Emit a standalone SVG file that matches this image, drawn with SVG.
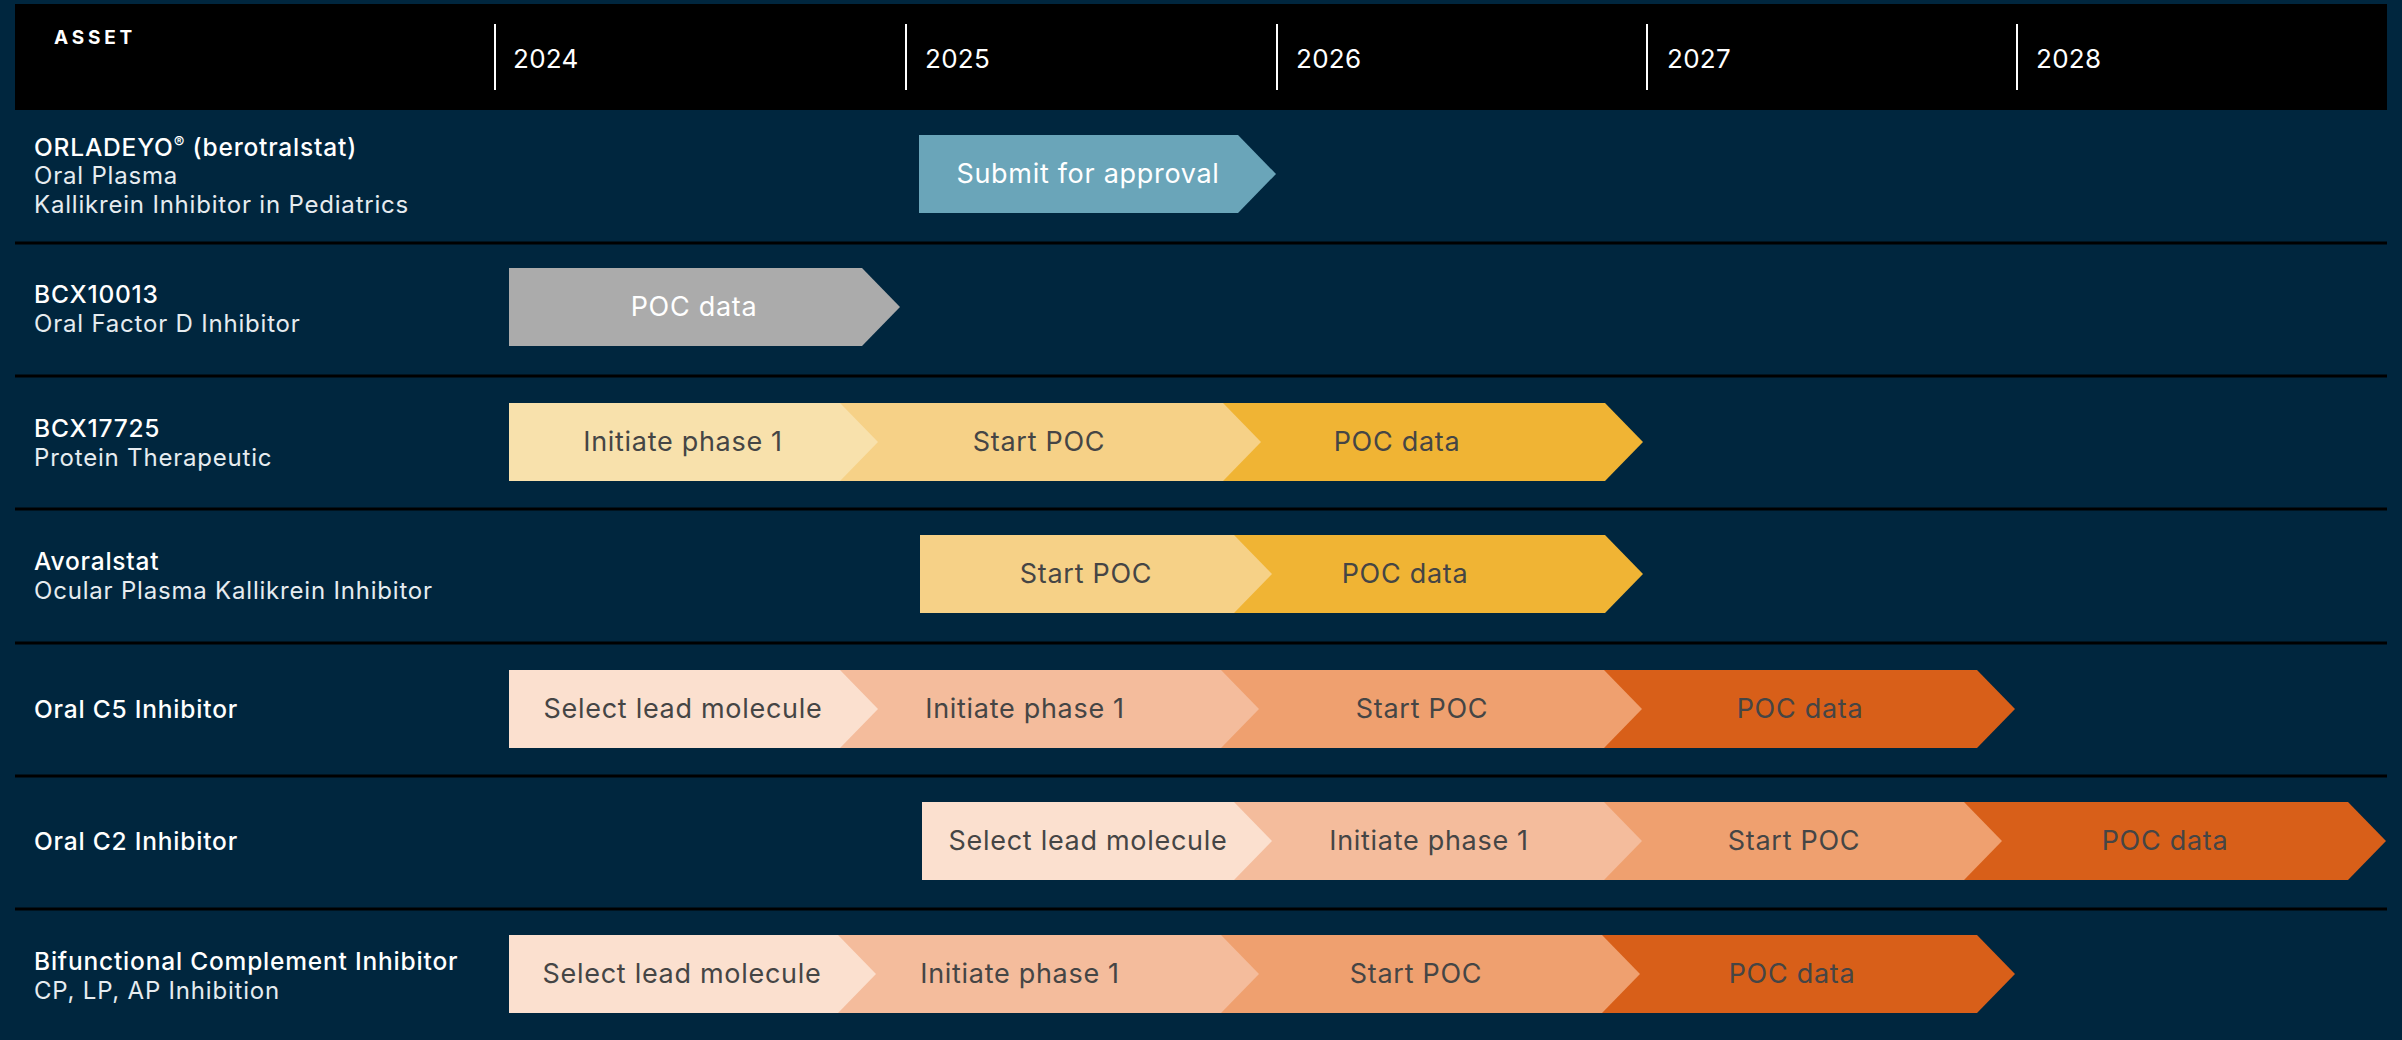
<svg xmlns="http://www.w3.org/2000/svg" width="2402" height="1040" viewBox="0 0 2402 1040">
<style>
.bg{fill:#00263e}
.hdr{fill:#000}
.yline{stroke:#fff;stroke-width:2}
.year{font-family:Inter,"Liberation Sans",sans-serif;font-size:26px;fill:#fff;letter-spacing:0.3px}
.asset{font-family:Inter,"Liberation Sans",sans-serif;font-size:19px;font-weight:700;fill:#fff;letter-spacing:3.8px}
.sep{stroke:#000;stroke-width:3}
.t1{font-family:Inter,"Liberation Sans",sans-serif;font-size:24.5px;font-weight:500;fill:#fff;letter-spacing:0.8px}
.t2{font-family:Inter,"Liberation Sans",sans-serif;font-size:24px;fill:#e6ecf0;letter-spacing:0.8px}
.lbl{font-family:Inter,"Liberation Sans",sans-serif;font-size:27px;fill:#454545;text-anchor:middle;letter-spacing:0.7px}
.lw{fill:#fff}
.blue{fill:#6aa5b9}
.gray{fill:#ababab}
.y1{fill:#f8e1ac}
.y2{fill:#f6d187}
.y3{fill:#f0b434}
.o1{fill:#fbe0cf}
.o2{fill:#f4bc9c}
.o3{fill:#efa06f}
.o4{fill:#d85f19}
</style>
<rect class="bg" x="0" y="0" width="2402" height="1040"/>
<g id="header">
<rect class="hdr" x="15" y="4" width="2372" height="106"/>
<text class="asset" x="54" y="44">ASSET</text>
<line class="yline" x1="495" y1="24" x2="495" y2="90"/>
<line class="yline" x1="906" y1="24" x2="906" y2="90"/>
<line class="yline" x1="1277" y1="24" x2="1277" y2="90"/>
<line class="yline" x1="1647" y1="24" x2="1647" y2="90"/>
<line class="yline" x1="2017" y1="24" x2="2017" y2="90"/>
<text class="year" x="513" y="68">2024</text>
<text class="year" x="925" y="68">2025</text>
<text class="year" x="1296" y="68">2026</text>
<text class="year" x="1667" y="68">2027</text>
<text class="year" x="2036" y="68">2028</text>
</g>
<g id="separators">
<line class="sep" x1="15" y1="243" x2="2387" y2="243"/>
<line class="sep" x1="15" y1="376" x2="2387" y2="376"/>
<line class="sep" x1="15" y1="509" x2="2387" y2="509"/>
<line class="sep" x1="15" y1="643" x2="2387" y2="643"/>
<line class="sep" x1="15" y1="776" x2="2387" y2="776"/>
<line class="sep" x1="15" y1="909" x2="2387" y2="909"/>
</g>
<g id="labels">
<g id="label-orladeyo"><text class="t1" x="34" y="156">ORLADEYO<tspan font-size="16" dy="-8">®</tspan><tspan dy="8"> (berotralstat)</tspan></text><text class="t2" x="34" y="184">Oral Plasma</text><text class="t2" x="34" y="213">Kallikrein Inhibitor in Pediatrics</text></g>
<g id="label-bcx10013"><text class="t1" x="34" y="303">BCX10013</text><text class="t2" x="34" y="332">Oral Factor D Inhibitor</text></g>
<g id="label-bcx17725"><text class="t1" x="34" y="437">BCX17725</text><text class="t2" x="34" y="466">Protein Therapeutic</text></g>
<g id="label-avoralstat"><text class="t1" x="34" y="570">Avoralstat</text><text class="t2" x="34" y="599">Ocular Plasma Kallikrein Inhibitor</text></g>
<g id="label-c5"><text class="t1" x="34" y="718">Oral C5 Inhibitor</text></g>
<g id="label-c2"><text class="t1" x="34" y="850">Oral C2 Inhibitor</text></g>
<g id="label-bifunctional"><text class="t1" x="34" y="970">Bifunctional Complement Inhibitor</text><text class="t2" x="34" y="999">CP, LP, AP Inhibition</text></g>
</g>
<g id="connectors"/>
<g id="row1">
<g id="r1-submit"><polygon class="blue" points="919,135 1238,135 1276,174 1238,213 919,213"/><text class="lbl lw" x="1088" y="183">Submit for approval</text></g>
</g>
<g id="row2">
<g id="r2-poc"><polygon class="gray" points="509,268 862,268 900,307 862,346 509,346"/><text class="lbl lw" x="694" y="316">POC data</text></g>
</g>
<g id="row3">
<g id="r3-pocdata"><polygon class="y3" points="1223,403 1605,403 1643,442 1605,481 1223,481"/><text class="lbl" x="1397" y="451">POC data</text></g>
<g id="r3-startpoc"><polygon class="y2" points="840,403 1223,403 1261,442 1223,481 840,481"/><text class="lbl" x="1039" y="451">Start POC</text></g>
<g id="r3-initiate"><polygon class="y1" points="509,403 840,403 878,442 840,481 509,481"/><text class="lbl" x="683" y="451">Initiate phase 1</text></g>
</g>
<g id="row4">
<g id="r4-pocdata"><polygon class="y3" points="1234,535 1605,535 1643,574 1605,613 1234,613"/><text class="lbl" x="1405" y="583">POC data</text></g>
<g id="r4-startpoc"><polygon class="y2" points="920,535 1234,535 1272,574 1234,613 920,613"/><text class="lbl" x="1086" y="583">Start POC</text></g>
</g>
<g id="row5">
<g id="r5-pocdata"><polygon class="o4" points="1604,670 1977,670 2015,709 1977,748 1604,748"/><text class="lbl" x="1800" y="718">POC data</text></g>
<g id="r5-startpoc"><polygon class="o3" points="1221,670 1604,670 1642,709 1604,748 1221,748"/><text class="lbl" x="1422" y="718">Start POC</text></g>
<g id="r5-initiate"><polygon class="o2" points="840,670 1221,670 1259,709 1221,748 840,748"/><text class="lbl" x="1025" y="718">Initiate phase 1</text></g>
<g id="r5-select"><polygon class="o1" points="509,670 840,670 878,709 840,748 509,748"/><text class="lbl" x="683" y="718">Select lead molecule</text></g>
</g>
<g id="row6">
<g id="r6-pocdata"><polygon class="o4" points="1964,802 2348,802 2386,841 2348,880 1964,880"/><text class="lbl" x="2165" y="850">POC data</text></g>
<g id="r6-startpoc"><polygon class="o3" points="1604,802 1964,802 2002,841 1964,880 1604,880"/><text class="lbl" x="1794" y="850">Start POC</text></g>
<g id="r6-initiate"><polygon class="o2" points="1234,802 1604,802 1642,841 1604,880 1234,880"/><text class="lbl" x="1429" y="850">Initiate phase 1</text></g>
<g id="r6-select"><polygon class="o1" points="922,802 1234,802 1272,841 1234,880 922,880"/><text class="lbl" x="1088" y="850">Select lead molecule</text></g>
</g>
<g id="row7">
<g id="r7-pocdata"><polygon class="o4" points="1602,935 1977,935 2015,974 1977,1013 1602,1013"/><text class="lbl" x="1792" y="983">POC data</text></g>
<g id="r7-startpoc"><polygon class="o3" points="1221,935 1602,935 1640,974 1602,1013 1221,1013"/><text class="lbl" x="1416" y="983">Start POC</text></g>
<g id="r7-initiate"><polygon class="o2" points="838,935 1221,935 1259,974 1221,1013 838,1013"/><text class="lbl" x="1020" y="983">Initiate phase 1</text></g>
<g id="r7-select"><polygon class="o1" points="509,935 838,935 876,974 838,1013 509,1013"/><text class="lbl" x="682" y="983">Select lead molecule</text></g>
</g>
</svg>
